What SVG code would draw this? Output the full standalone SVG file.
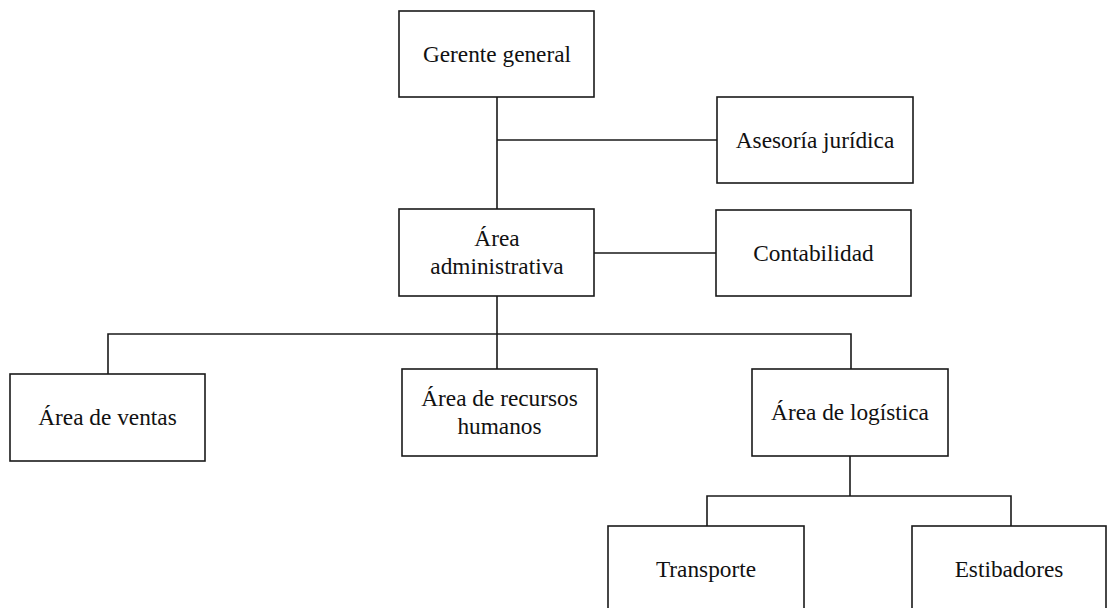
<svg xmlns="http://www.w3.org/2000/svg" width="1107" height="608" viewBox="0 0 1107 608">
<style>
.box{fill:#fff;stroke:#1a1a1a;stroke-width:1.6}
.lbl{font-family:"Liberation Serif","Times New Roman",serif;font-size:23.3px;fill:#111;text-anchor:middle}
.con{stroke:#1a1a1a;stroke-width:1.6;fill:none}
</style>
<rect width="1107" height="608" fill="#fff"/>
<g id="connectors">
<path class="con" d="M497 97V209M497 140H717M594 253H716M497 296V369M108 374V334H851V369M850 456V496M707 526V496H1011V526"/>
</g>
<g id="gerente"><rect class="box" x="399" y="11" width="195" height="86"/><text class="lbl" x="497" y="61.5">Gerente general</text></g>
<g id="asesoria"><rect class="box" x="717" y="97" width="196" height="86"/><text class="lbl" x="815" y="147.5">Asesoría jurídica</text></g>
<g id="administrativa"><rect class="box" x="399" y="209" width="195" height="87"/><text class="lbl" x="497" y="245.5">Área</text><text class="lbl" x="497" y="273.5">administrativa</text></g>
<g id="contabilidad"><rect class="box" x="716" y="210" width="195" height="86"/><text class="lbl" x="813.5" y="260.5">Contabilidad</text></g>
<g id="ventas"><rect class="box" x="10" y="374" width="195" height="87"/><text class="lbl" x="107.5" y="425">Área de ventas</text></g>
<g id="rrhh"><rect class="box" x="402" y="369" width="195" height="87"/><text class="lbl" x="499.5" y="405.5">Área de recursos</text><text class="lbl" x="499.5" y="433.5">humanos</text></g>
<g id="logistica"><rect class="box" x="752" y="369" width="196" height="87"/><text class="lbl" x="850" y="420">Área de logística</text></g>
<g id="transporte"><rect class="box" x="608" y="526" width="196" height="86"/><text class="lbl" x="706" y="576.5">Transporte</text></g>
<g id="estibadores"><rect class="box" x="912" y="526" width="194" height="86"/><text class="lbl" x="1009" y="576.5">Estibadores</text></g>
</svg>
